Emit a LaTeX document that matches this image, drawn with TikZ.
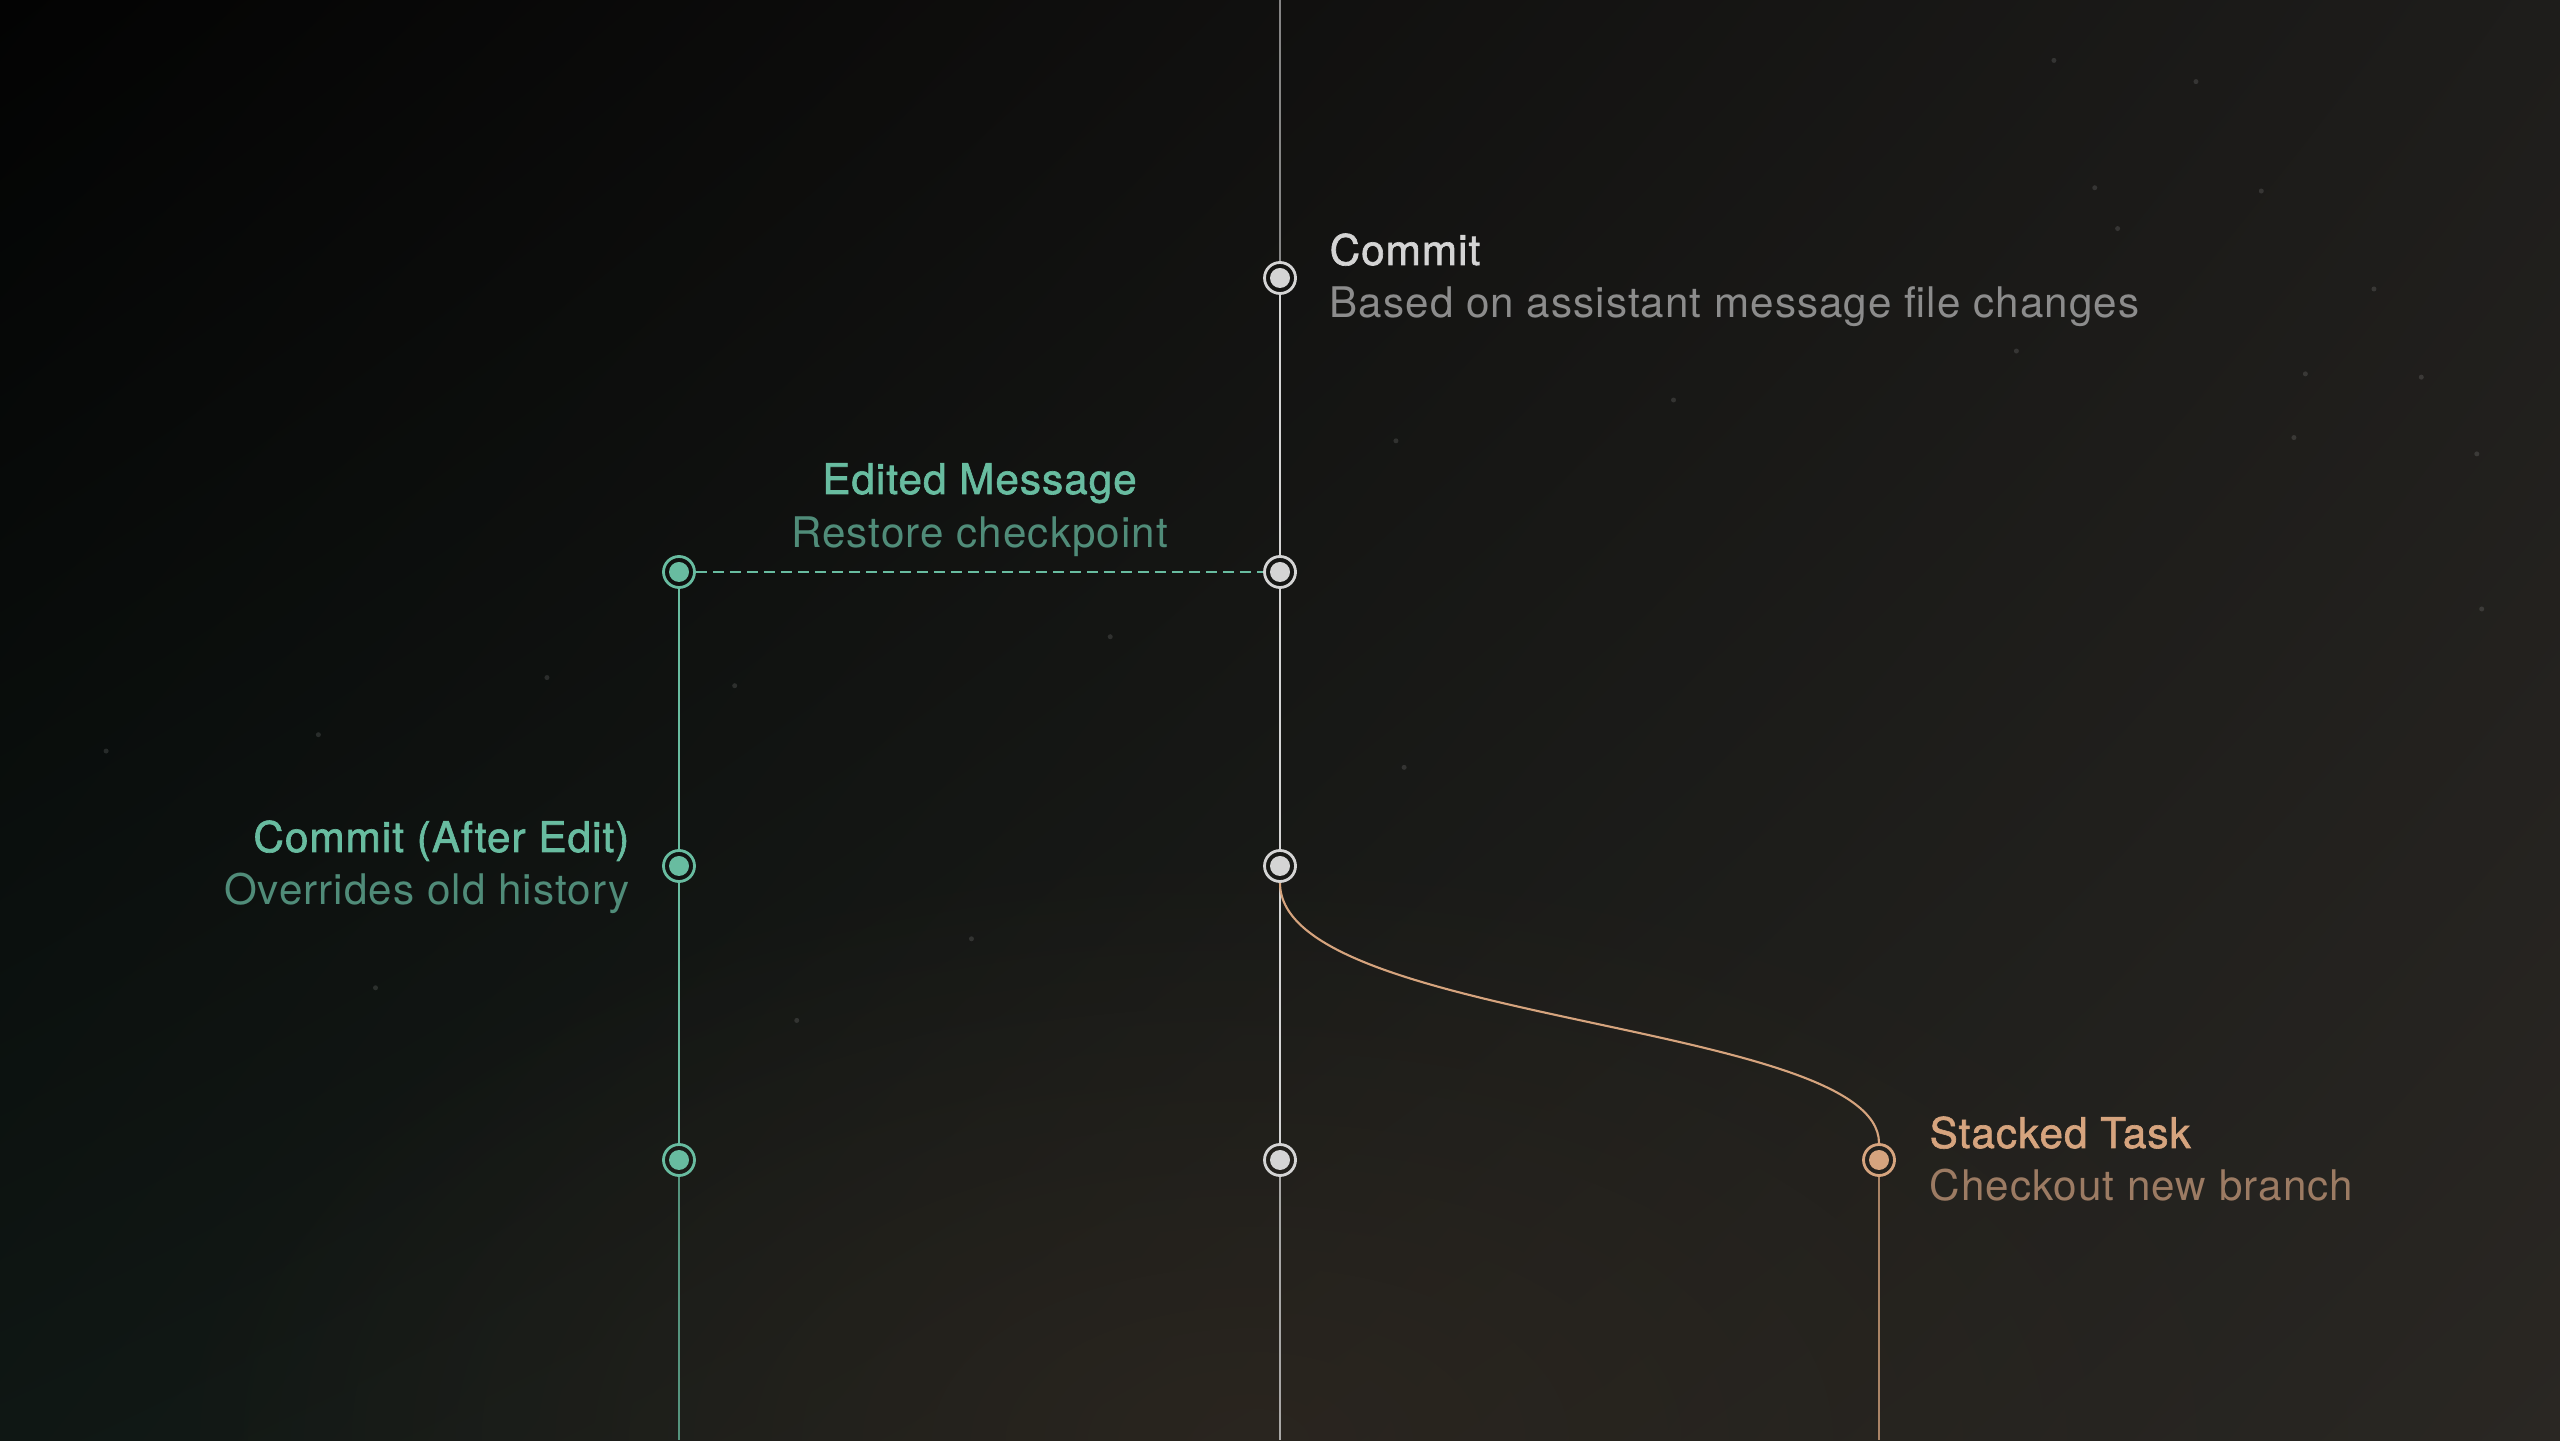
\documentclass[tikz,border=0pt]{standalone}
\usepackage{fontspec}
\setmainfont[LetterSpace=2.5]{TeX Gyre Heros}
\newfontfamily\titlefont[FakeBold=1.5, LetterSpace=2.5]{TeX Gyre Heros}
\usepackage{xcolor}
\usepackage{tikz}
\usetikzlibrary{
    positioning,
    calc,
    shadings,
    fadings
}
\definecolor{bgTopLeft}{RGB}{3, 3, 3}
\definecolor{bgTopRight}{RGB}{30, 29, 27}
\definecolor{bgBottomLeft}{RGB}{15, 23, 20}
\definecolor{bgBottomRight}{RGB}{42, 39, 35}
\definecolor{glowBrown}{RGB}{48, 40, 33}
\definecolor{mainGray}{RGB}{212, 212, 212}
\definecolor{mainSub}{RGB}{140, 140, 140}
\definecolor{editGreen}{RGB}{104, 188, 160}
\definecolor{editSub}{RGB}{80, 140, 121}
\definecolor{taskOrange}{RGB}{214, 164, 126}
\definecolor{taskSub}{RGB}{156, 123, 99}

\tikzfading[name=glow fade, inner color=transparent!0, outer color=transparent!100]

\tikzset{
    dot/.style={circle, draw=#1, line width=0.8pt, minimum size=0.31cm, inner sep=0pt,
        path picture={\fill[#1] (path picture bounding box.center) circle (0.1);}},
    msgtitle/.style={font=\titlefont\fontsize{12}{14}\selectfont, inner sep=0pt},
    msgsub/.style={font=\fontsize{12}{14}\selectfont, inner sep=0pt},
    branch/.style={line width=0.6pt, draw=#1}
}

\begin{document}
\begin{tikzpicture}[scale=1.0, >=stealth]
        \useasboundingbox (0,0) rectangle (25.6,14.4);
        \shade[upper left=bgTopLeft, upper right=bgTopRight, lower left=bgBottomLeft, lower right=bgBottomRight] (0,0) rectangle (25.6,14.4);
        \fill[glowBrown, path fading=glow fade, opacity=0.7] (12.5,0) ellipse (11 and 6);
        \foreach \x/\y in {1345/50, 1283/115, 1297/140, 1385/117, 1454/177, 1483/231, 1412/229, 1405/268, 1520/373, 1517/278, 1258/37, 1025/245, 855/270, 1235/215, 450/420, 335/415, 195/450, 65/460, 230/605, 595/575, 488/625, 680/390, 860/470}
            \fill[white, opacity=0.12] ({\x*0.01633},{14.4-\y*0.01633}) circle (0.025);

        % main line
        \node[dot=mainGray] (m1) at (12.80, 11.62) {};
        \node[dot=mainGray] (m2) at (12.80, 8.68) {};
        \node[dot=mainGray] (m3) at (12.80, 5.74) {};
        \node[dot=mainGray] (m4) at (12.80, 2.80) {};
        % edited branch
        \node[dot=editGreen] (g2) at (6.79, 8.68) {};
        \node[dot=editGreen] (g3) at (6.79, 5.74) {};
        \node[dot=editGreen] (g4) at (6.79, 2.80) {};
        % stacked task
        \node[dot=taskOrange] (o4) at (18.79, 2.80) {};

        \coordinate (topM) at (12.80, 14.4);
        \coordinate (botM) at (12.80, 0);
        \coordinate (botG) at (6.79, 0);
        \coordinate (botO) at (18.79, 0);

        \draw[branch=mainGray, draw opacity=0.6] (topM) -- (m1);
        \draw[branch=mainGray] (m1) -- (m2);
        \draw[branch=mainGray] (m2) -- (m3);
        \draw[branch=mainGray] (m3) -- (m4);
        \draw[branch=mainGray, draw opacity=0.75] (m4) -- (botM);

        \draw[branch=editGreen, dash pattern=on 0.11cm off 0.06cm] (g2) -- (m2);
        \draw[branch=editGreen] (g2) -- (g3);
        \draw[branch=editGreen] (g3) -- (g4);
        \draw[branch=editGreen, draw opacity=0.75] (g4) -- (botG);

        \draw[branch=taskOrange] (m3.south) .. controls +(0,-1.41) and +(0,1.22) .. (o4.north);
        \draw[branch=taskOrange, draw opacity=0.75] (o4) -- (botO);

        % labels
        \node[msgtitle, text=mainGray, anchor=base west] (m1t) at ($(m1)+(0.49,0.13)$) {Commit};
        \node[msgsub, text=mainSub, anchor=base west] (m1s) at ($(m1)+(0.49,-0.40)$) {Based on assistant message file changes};

        \node[msgtitle, text=editGreen, anchor=base] (g2t) at ($(g2)!0.5!(m2)+(0,0.78)$) {Edited Message};
        \node[msgsub, text=editSub, anchor=base] (g2s) at ($(g2)!0.5!(m2)+(0,0.24)$) {Restore checkpoint};

        \node[msgtitle, text=editGreen, anchor=base east] (g3t) at ($(g3)+(-0.49,0.14)$) {Commit (After Edit)};
        \node[msgsub, text=editSub, anchor=base east] (g3s) at ($(g3)+(-0.49,-0.39)$) {Overrides old history};

        \node[msgtitle, text=taskOrange, anchor=base west] (o4t) at ($(o4)+(0.50,0.12)$) {Stacked Task};
        \node[msgsub, text=taskSub, anchor=base west] (o4s) at ($(o4)+(0.50,-0.41)$) {Checkout new branch};
    \end{tikzpicture}
\end{document}
